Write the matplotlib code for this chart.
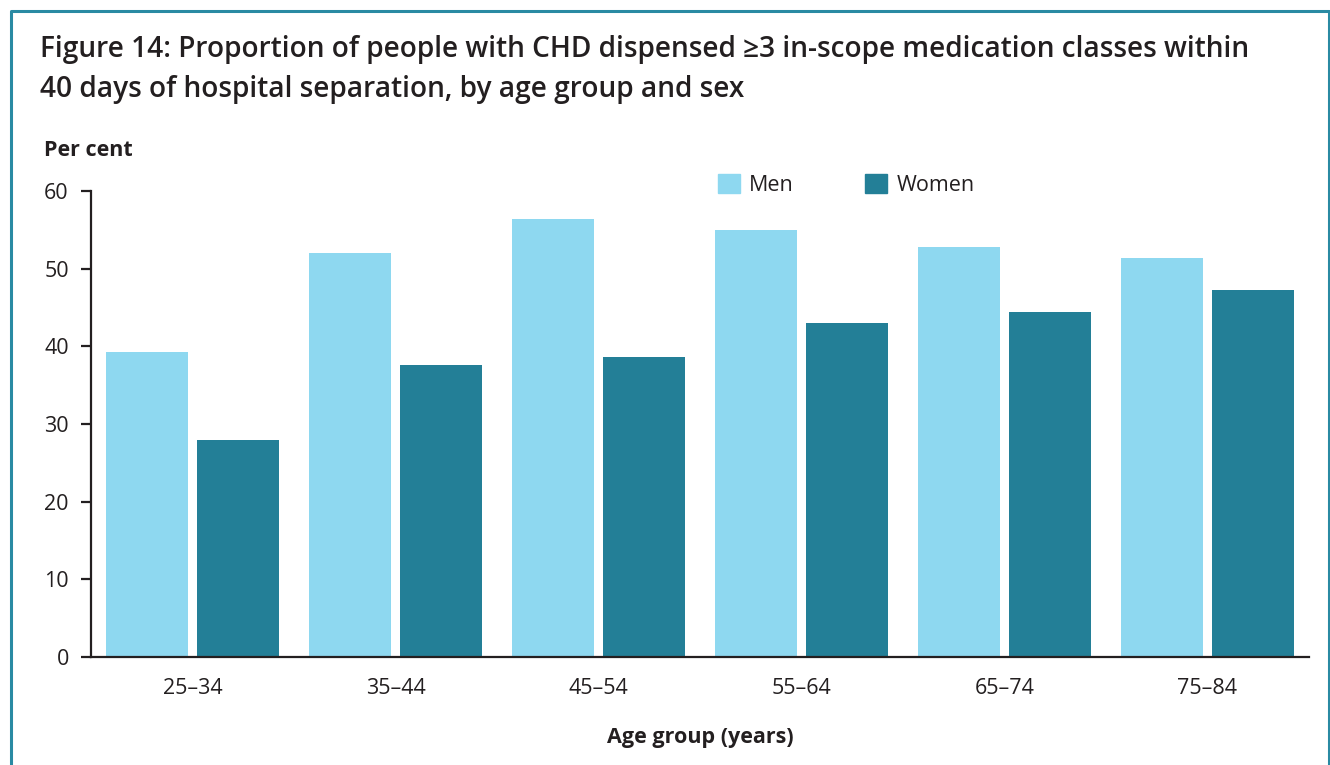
import matplotlib
matplotlib.use("Agg")
import matplotlib.pyplot as plt
import numpy as np
from matplotlib.patches import Patch
from matplotlib.lines import Line2D

# data
age_groups = ["25–34", "35–44", "45–54", "55–64", "65–74", "75–84"]
men = [39.3, 52.0, 56.4, 55.0, 52.8, 51.4]
women = [28.0, 37.6, 38.6, 43.0, 44.4, 47.3]
y_ticks = [0, 10, 20, 30, 40, 50, 60]

men_col = "#8ed8f0"
women_col = "#237f97"
txt_col = "#231f20"
frame_col = "#2a8aa3"

plt.rcParams["font.family"] = ["Open Sans", "DejaVu Sans"]

W, H = 1330, 765
fs = 15.5
fig = plt.figure(figsize=(W / 100, H / 100), dpi=100)

# axes placed in pixel terms
left, right, bottom, top = 91, 1309, 657, 191
ax = fig.add_axes([left / W, 1 - bottom / H, (right - left) / W, (bottom - top) / H])

x = np.arange(len(age_groups))
bw = 0.404
off = 0.222
ax.bar(x - off, men, width=bw, color=men_col, label="Men")
ax.bar(x + off, women, width=bw, color=women_col, label="Women")

ax.set_xlim(-0.5, len(age_groups) - 0.5)
ax.set_ylim(0, 60)
ax.set_yticks(y_ticks)
ax.set_xticks(x)
ax.set_xticklabels(age_groups)

for s in ["top", "right"]:
    ax.spines[s].set_visible(False)
for s in ["left", "bottom"]:
    ax.spines[s].set_color(txt_col)
    ax.spines[s].set_linewidth(1.6)
ax.tick_params(axis="y", length=7, width=1.6, color=txt_col, labelsize=fs,
               labelcolor=txt_col, pad=9)
ax.tick_params(axis="x", length=0, labelsize=fs, labelcolor=txt_col, pad=15)

ax.set_xlabel("Age group (years)", fontsize=fs, fontweight="bold", color=txt_col, labelpad=20)

fig.text(44 / W, 1 - 151 / H, "Per cent", fontsize=fs, fontweight="bold",
         color=txt_col, va="center", ha="left")

fig.text(40 / W, 1 - 49 / H, "Figure 14: Proportion of people with CHD dispensed ≥3 in-scope medication classes within",
         fontsize=20.2, fontweight="semibold", color=txt_col, va="center", ha="left")
fig.text(40 / W, 1 - 90 / H, "40 days of hospital separation, by age group and sex",
         fontsize=20.2, fontweight="semibold", color=txt_col, va="center", ha="left")

handles = [Patch(color=men_col, label="Men"), Patch(color=women_col, label="Women")]
leg = ax.legend(handles=handles, loc="center left", bbox_to_anchor=(718 / W, 1 - 185 / H),
                bbox_transform=fig.transFigure, ncol=2, frameon=False, fontsize=fs,
                handlelength=1.0, handleheight=1.0, handletextpad=0.45, columnspacing=3.3,
                borderaxespad=0, borderpad=0)
for t in leg.get_texts():
    t.set_color(txt_col)

# teal frame on left, top and right
fx = [10.5 / W, 10.5 / W, 1328.5 / W, 1328.5 / W]
fy = [0, 1 - 11 / H, 1 - 11 / H, 0]
fig.add_artist(Line2D(fx, fy, color=frame_col, linewidth=2.2, transform=fig.transFigure))

fig.savefig("out.png", dpi=100)
